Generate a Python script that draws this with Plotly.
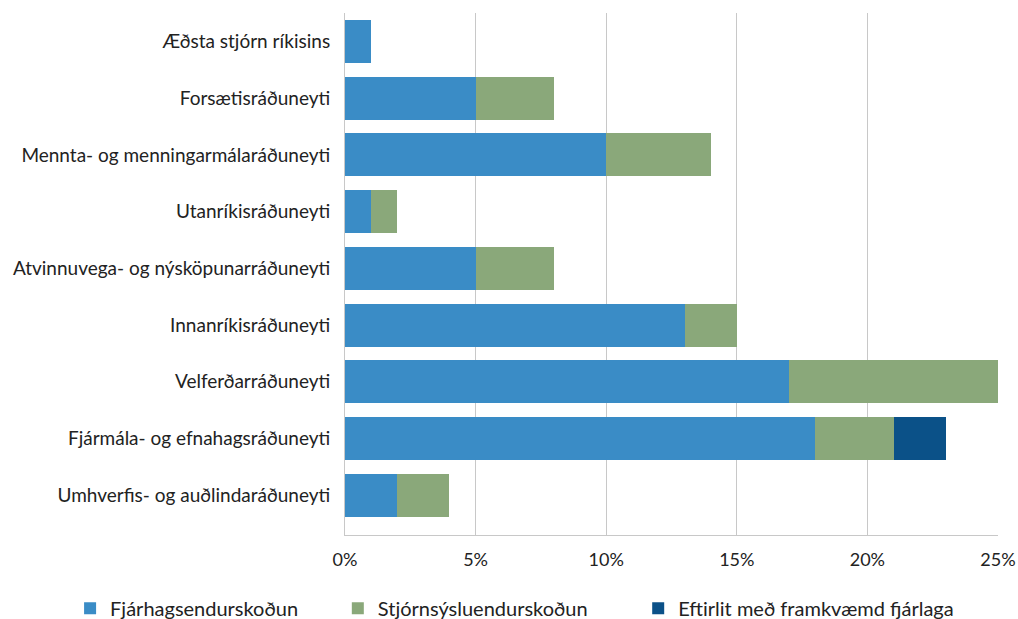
import plotly.graph_objects as go

categories = [
    "Æðsta stjórn ríkisins",
    "Forsætisráðuneyti",
    "Mennta- og menningarmálaráðuneyti",
    "Utanríkisráðuneyti",
    "Atvinnuvega- og nýsköpunarráðuneyti",
    "Innanríkisráðuneyti",
    "Velferðarráðuneyti",
    "Fjármála- og efnahagsráðuneyti",
    "Umhverfis- og auðlindaráðuneyti",
]
fjarhags = [1, 5, 10, 1, 5, 13, 17, 18, 2]
stjornsysl = [0, 3, 4, 1, 3, 2, 8, 3, 2]
eftirlit = [0, 0, 0, 0, 0, 0, 0, 2, 0]

series_names = ["Fjárhagsendurskoðun", "Stjórnsýsluendurskoðun", "Eftirlit með framkvæmd fjárlaga"]
colors = ["#3a8cc6", "#8aa87a", "#0b5188"]
tick_vals = [0, 5, 10, 15, 20, 25]
tick_text = ["0%", "5%", "10%", "15%", "20%", "25%"]

legend_ids = ["legend", "legend2", "legend3"]
legend_x = [-0.421, -0.011, 0.449]

fig = go.Figure()
for name, vals, c, lg in zip(series_names, [fjarhags, stjornsysl, eftirlit], colors, legend_ids):
    fig.add_trace(go.Bar(
        y=categories, x=vals, name=name, orientation="h",
        marker=dict(color=c, line=dict(width=0)),
        legend=lg,
    ))

font_family = "Lato, Open Sans, sans-serif"
legend_common = dict(
    orientation="h", y=-0.103, xref="paper", yref="paper",
    xanchor="left", yanchor="top",
    font=dict(size=20, color="#222222"),
    itemwidth=30, bgcolor="rgba(0,0,0,0)",
)
fig.update_layout(
    barmode="stack",
    bargap=0.24,
    width=1018, height=619,
    margin=dict(l=345, r=20, t=13, b=84, autoexpand=False),
    plot_bgcolor="white", paper_bgcolor="white",
    font=dict(family=font_family, size=19, color="#222222"),
    showlegend=True,
    legend=dict(x=legend_x[0], **legend_common),
    legend2=dict(x=legend_x[1], **legend_common),
    legend3=dict(x=legend_x[2], **legend_common),
    xaxis=dict(
        range=[0, 25], tickvals=tick_vals, ticktext=tick_text,
        showgrid=True, gridcolor="#c8c8c8", gridwidth=1,
        showline=True, linecolor="#c8c8c8", linewidth=1,
        zeroline=False, ticks="", ticklabelstandoff=8,
        tickfont=dict(size=18),
    ),
    yaxis=dict(
        range=[8.7, -0.5], showgrid=False,
        showline=True, linecolor="#c8c8c8", linewidth=1,
        ticks="", ticklabelstandoff=10,
        tickfont=dict(size=19),
    ),
)

fig.write_html(
    "out.html",
    config={"displayModeBar": False},
    post_script="document.body.style.margin='0';",
)
